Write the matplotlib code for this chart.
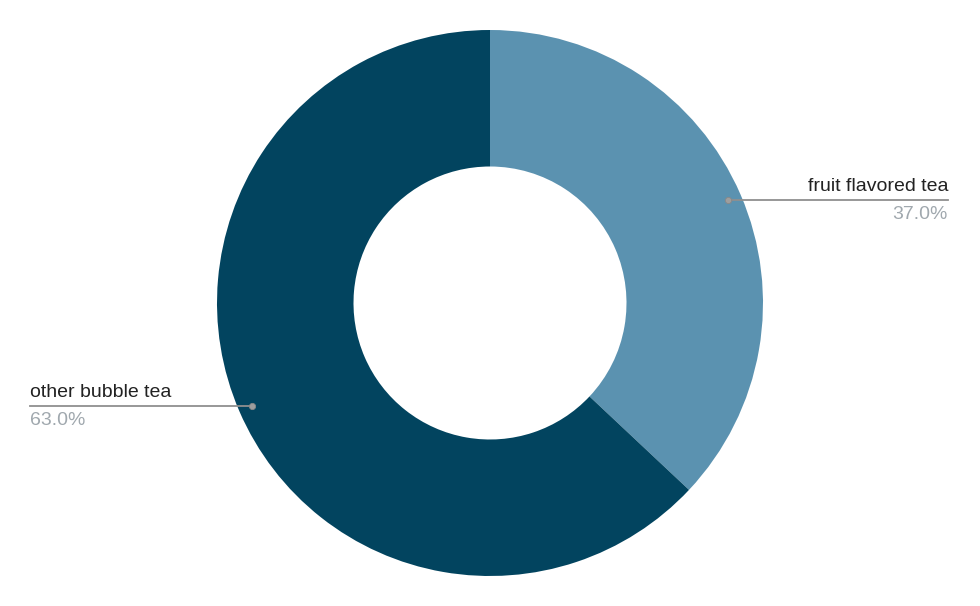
import numpy as np
import matplotlib.pyplot as plt

labels = ['fruit flavored tea', 'other bubble tea']
values = [37.0, 63.0]
colors = ['#5b92b0', '#02445f']

plt.rcParams['font.family'] = ['Liberation Sans', 'DejaVu Sans']

fig = plt.figure(figsize=(9.8, 6.06), dpi=100)
ax = fig.add_axes([0, 0, 1, 1])

cx, cy, r = 490, 303, 273
wedges, _ = ax.pie(values, colors=colors, startangle=90, counterclock=False,
                   center=(cx, cy), radius=r, frame=True,
                   wedgeprops=dict(width=r * 0.5, linewidth=0))
ax.set_xlim(0, 980)
ax.set_ylim(0, 606)
ax.set_aspect('equal')
ax.axis('off')

total = sum(values)
for w, lab, v in zip(wedges, labels, values):
    mid = np.deg2rad((w.theta1 + w.theta2) / 2)
    px = cx + 0.95 * r * np.cos(mid)
    py = cy + 0.95 * r * np.sin(mid)
    ax.plot(px, py, 'o', ms=4.5, color='#9e9e9e', mec='#888888', mew=0.6, zorder=5)
    if np.cos(mid) >= 0:
        x0, x1, tx, ha = px, 948, 948, 'right'
    else:
        x0, x1, tx, ha = 30, px, 30, 'left'
    ax.plot([x0, x1], [py, py], color='#8f8f8f', lw=1.3, zorder=4)
    ax.text(tx, py + 5, lab, ha=ha, va='bottom', fontsize=14, color='#222222')
    ax.text(tx, py - 6, f'{v / total * 100:.1f}%', ha=ha, va='top', fontsize=14, color='#a0a8ae')

fig.savefig('out.png', dpi=100)
